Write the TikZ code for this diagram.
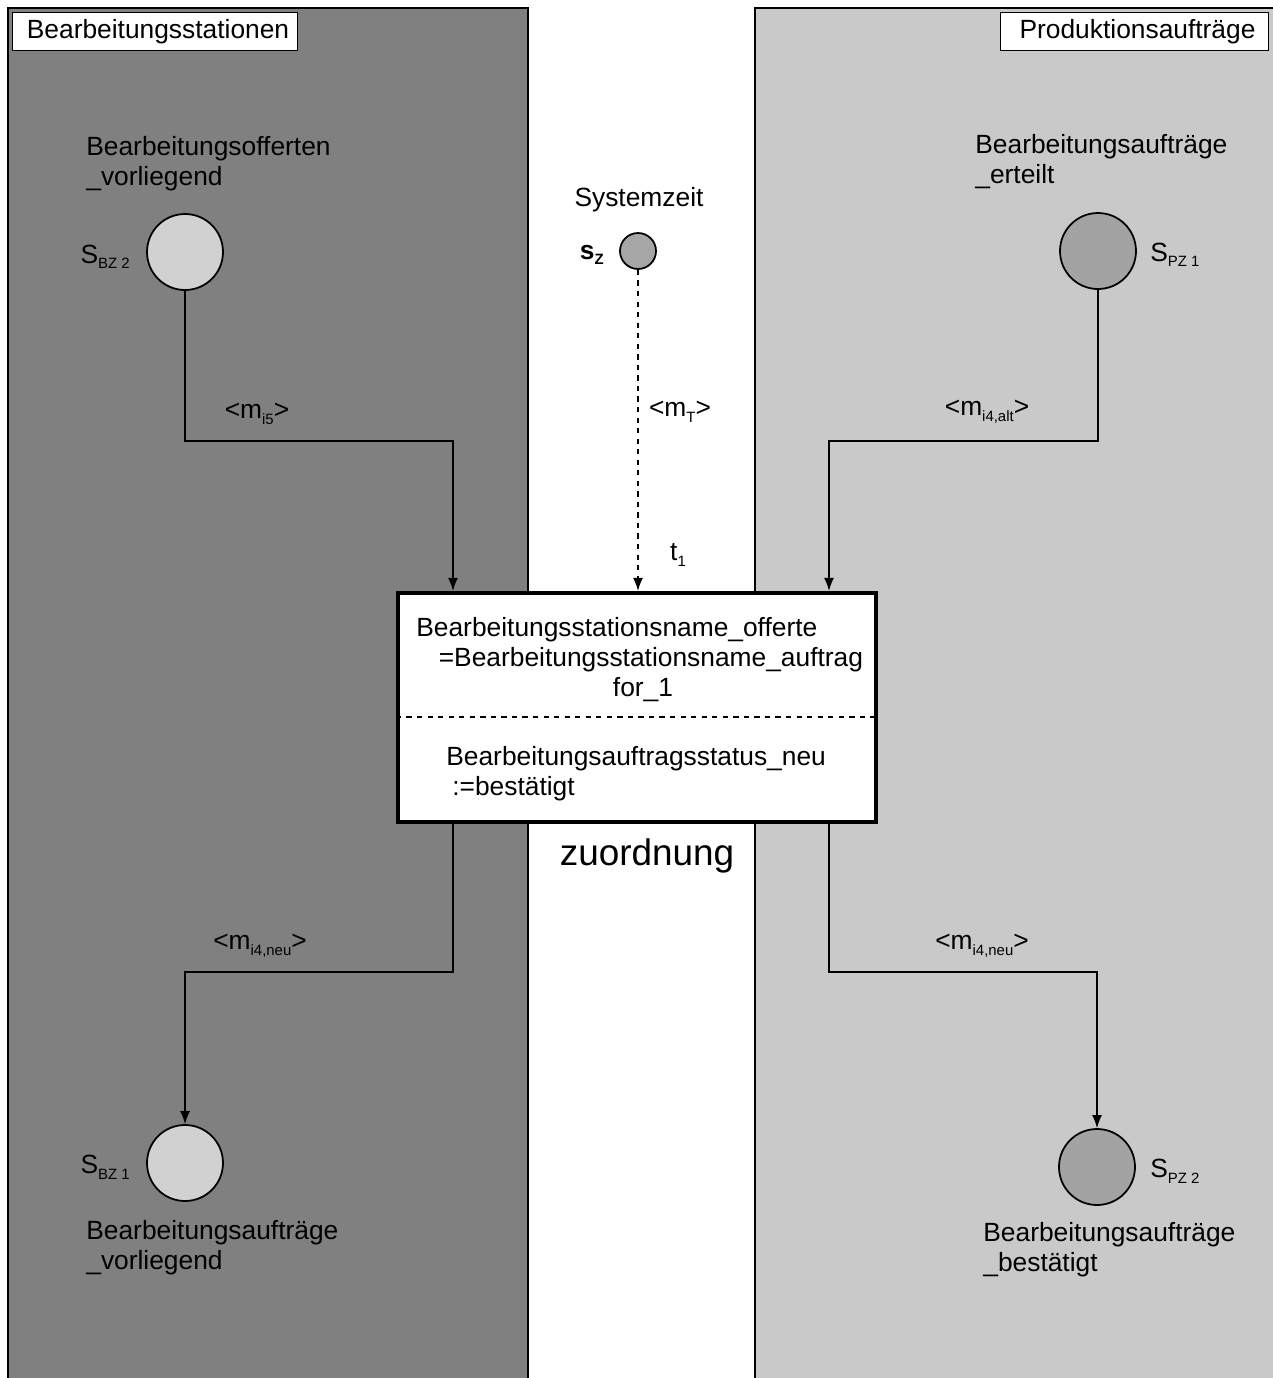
\documentclass[tikz,border=0pt]{standalone}
\usepackage{fontspec}
\setmainfont{Liberation Sans}
\usetikzlibrary{arrows.meta}

\newcommand\tief[1]{\raisebox{-0.4ex}{\fontsize{8.5}{9}\selectfont #1}}

\tikzset{
  place/.style={circle, draw, line width=1pt, minimum size=1.52cm, inner sep=0pt},
  arc/.style={line width=0.8pt, -{Latex[length=2.6mm,width=2mm]}},
  label text/.style={font=\fontsize{15}{17}\selectfont, inner sep=0pt},
  title box/.style={draw, fill=white, line width=0.6pt, font=\fontsize{15}{17}\selectfont, anchor=north west, inner sep=0pt}
}

\begin{document}
\begin{tikzpicture}[x=0.2mm, y=-0.2mm]
  \useasboundingbox (0,0) rectangle (1273,1378);
  % Bereiche
  \filldraw[fill=black!50, line width=0.8pt] (8,8) rectangle (528,1390);
  \filldraw[fill=black!21, line width=0.8pt] (755,8) rectangle (1285,1390);
  \node[title box, minimum width=5.7cm, minimum height=0.76cm] (bstat) at (12,12) {\hspace*{0.12cm}Bearbeitungsstationen\hfill};
  \node[title box, minimum width=5.36cm, minimum height=0.76cm] (pauf) at (1000,12) {\hspace*{0.12cm}Produktionsauftr\"age\hfill};

  % Stellen
  \node[place, fill=black!18] (bz2) at (185,252) {};
  \node[place, fill=black!18] (bz1) at (185,1163) {};
  \node[place, fill=black!36] (pz1) at (1098,251) {};
  \node[place, fill=black!36] (pz2) at (1097,1167) {};
  \node[place, fill=black!35, minimum size=0.72cm] (sz) at (638,251) {};

  \node[label text, anchor=east] (bz2s) at (130,257) {S\tief{BZ 2}};
  \node[label text, anchor=east] (bz1s) at (130,1167) {S\tief{BZ 1}};
  \node[label text, anchor=west] (pz1s) at (1150,255) {S\tief{PZ 1}};
  \node[label text, anchor=west] (pz2s) at (1150,1171) {S\tief{PZ 2}};
  \node[label text, anchor=east] (szs) at (604,255) {\textbf{s}\tief{\textbf{Z}}};

  \node[label text, anchor=north west, align=left] (bz2n) at (86,136) {Bearbeitungsofferten\\\_vorliegend};
  \node[label text, anchor=north west, align=left] (bz1n) at (86,1220) {Bearbeitungsauftr\"age\\\_vorliegend};
  \node[label text, anchor=north west, align=left] (pz1n) at (975,134) {Bearbeitungsauftr\"age\\\_erteilt};
  \node[label text, anchor=north west, align=left] (pz2n) at (983,1222) {Bearbeitungsauftr\"age\\\_best\"atigt};
  \node[label text] (szn) at (639,200) {Systemzeit};

  % Transition
  \node[draw, fill=white, line width=2.4pt, minimum width=9.56cm, minimum height=4.58cm] (t1) at (637,707.5) {};
  \node[label text, align=left, anchor=north west] (guard) at (416,617) {Bearbeitungsstationsname\_offerte\\
    \hspace*{0.45cm}=Bearbeitungsstationsname\_auftrag};
  \node[label text] (for1) at (643,690) {for\_1};
  \draw[line width=0.8pt, dashed] (t1.west |- 0,717) -- (t1.east |- 0,717);
  \node[label text, align=left, anchor=north west] (action) at (446,746) {Bearbeitungsauftragsstatus\_neu\\
    \hspace*{0.12cm}:=best\"atigt};
  \node[label text, font=\fontsize{21}{24}\selectfont] (tname) at (647,856) {zuordnung};
  \node[label text] (t1l) at (678,555) {t\tief{1}};

  % Kanten
  \coordinate (k1) at (453,441);
  \coordinate (k2) at (829,441);
  \coordinate (k3) at (453,972);
  \coordinate (k4) at (829,972);
  \draw[arc] (bz2.south) |- (k1) -- (k1 |- t1.north);
  \draw[arc] (pz1.south) |- (k2) -- (k2 |- t1.north);
  \draw[arc, dashed] (sz.south) -- (sz.south |- t1.north);
  \draw[arc] (k3 |- t1.south) -- (k3) -| (bz1.north);
  \draw[arc] (k4 |- t1.south) -- (k4) -| (pz2.north);

  \node[label text] (m5) at (257,414) {<m\tief{i5}>};
  \node[label text] (mt) at (680,412) {<m\tief{T}>};
  \node[label text] (malt) at (987,412) {<m\tief{i4,alt}>};
  \node[label text] (mneu1) at (260,946) {<m\tief{i4,neu}>};
  \node[label text] (mneu2) at (982,946) {<m\tief{i4,neu}>};
\end{tikzpicture}
\end{document}
